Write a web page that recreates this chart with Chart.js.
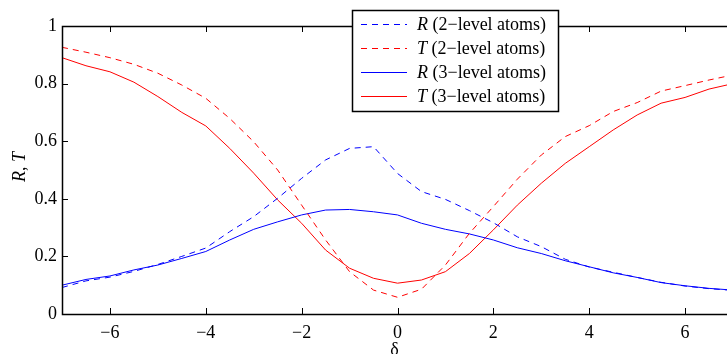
<!DOCTYPE html>
<html>
<head>
<meta charset="utf-8">
<script src="https://cdn.jsdelivr.net/npm/chart.js@4"></script>
<style>
  html, body { margin: 0; padding: 0; background: #fff; overflow: hidden; }
  #wrap { width: 740px; height: 354px; }
</style>
</head>
<body>
<div id="wrap"><canvas id="myChart" width="740" height="354"></canvas></div>
<script>
// detuning delta
var deltaValues = [-7, -6.5, -6, -5.5, -5, -4.5, -4, -3.5, -3, -2.5, -2, -1.5, -1, -0.5, 0,
  0.5, 1, 1.5, 2, 2.5, 3, 3.5, 4, 4.5, 5, 5.5, 6, 6.5, 7];

var r2Values = [0.092, 0.115, 0.128, 0.148, 0.172, 0.2, 0.229, 0.286, 0.338, 0.402, 0.471,
  0.535, 0.575, 0.581, 0.488, 0.425, 0.398, 0.359, 0.317, 0.268, 0.234, 0.19, 0.163,
  0.145, 0.127, 0.11, 0.097, 0.088, 0.082];
var t2Values = [0.926, 0.909, 0.89, 0.867, 0.836, 0.795, 0.749, 0.679, 0.598, 0.5, 0.378,
  0.257, 0.147, 0.083, 0.058, 0.086, 0.17, 0.28, 0.373, 0.468, 0.552, 0.616, 0.654,
  0.703, 0.734, 0.774, 0.793, 0.8125, 0.83];
var r3Values = [0.1, 0.12, 0.132, 0.153, 0.17, 0.193, 0.217, 0.257, 0.294, 0.32, 0.344,
  0.361, 0.363, 0.355, 0.344, 0.315, 0.294, 0.278, 0.257, 0.23, 0.21, 0.185, 0.164,
  0.143, 0.127, 0.109, 0.098, 0.089, 0.083];
var t3Values = [0.89, 0.862, 0.841, 0.805, 0.755, 0.7, 0.653, 0.575, 0.489, 0.396, 0.315,
  0.222, 0.159, 0.124, 0.107, 0.118, 0.147, 0.21, 0.292, 0.378, 0.454, 0.523, 0.581,
  0.639, 0.691, 0.732, 0.752, 0.781, 0.8];

var xTicks = [-6, -4, -2, 0, 2, 4, 6];
var yTicks = [0, 0.2, 0.4, 0.6, 0.8, 1];

var legendItems = [
  { sym: 'R', rest: ' (2\u2212level atoms)', color: '#0000ff', dash: [6, 5] },
  { sym: 'T', rest: ' (2\u2212level atoms)', color: '#ff0000', dash: [6, 5] },
  { sym: 'R', rest: ' (3\u2212level atoms)', color: '#0000ff', dash: [] },
  { sym: 'T', rest: ' (3\u2212level atoms)', color: '#ff0000', dash: [] }
];

var FONT = '"Liberation Serif", "Times New Roman", serif';

function pts(ys) {
  return deltaValues.map(function (x, i) { return { x: x, y: ys[i] }; });
}

function minus(v) {
  return v < 0 ? '\u2212' + Math.abs(v) : String(v);
}

// box, inward ticks, legend and axis titles
var decor = {
  id: 'decor',
  afterDraw: function (chart) {
    var ctx = chart.ctx;
    var a = chart.chartArea;
    var xs = chart.scales.x, ys = chart.scales.y;
    ctx.save();
    ctx.strokeStyle = '#000';
    ctx.lineWidth = 1;
    ctx.beginPath();
    xTicks.forEach(function (v) {
      var px = Math.round(xs.getPixelForValue(v)) + 0.5;
      ctx.moveTo(px, a.bottom); ctx.lineTo(px, a.bottom - 6);
      ctx.moveTo(px, a.top); ctx.lineTo(px, a.top + 6);
    });
    yTicks.forEach(function (v) {
      var py = Math.round(ys.getPixelForValue(v)) + 0.5;
      ctx.moveTo(a.left, py); ctx.lineTo(a.left + 6, py);
      ctx.moveTo(a.right, py); ctx.lineTo(a.right - 6, py);
    });
    ctx.stroke();
    ctx.lineWidth = 1.5;
    ctx.strokeRect(Math.round(a.left) + 0.5, Math.round(a.top) + 0.5,
      Math.round(a.right - a.left), Math.round(a.bottom - a.top));

    // legend
    var lx = 352, ly = 10, lw = 206, lh = 101;
    ctx.fillStyle = '#fff';
    ctx.fillRect(lx, ly, lw, lh);
    ctx.lineWidth = 1.5;
    ctx.strokeStyle = '#000';
    ctx.strokeRect(lx + 0.5, ly + 0.5, lw, lh);
    ctx.textBaseline = 'middle';
    legendItems.forEach(function (it, i) {
      var y = 24 + i * 24;
      ctx.strokeStyle = it.color;
      ctx.lineWidth = 1;
      ctx.setLineDash(it.dash);
      ctx.beginPath();
      ctx.moveTo(361, y + 0.5); ctx.lineTo(407, y + 0.5);
      ctx.stroke();
      ctx.setLineDash([]);
      ctx.fillStyle = '#000';
      ctx.font = 'italic 18px ' + FONT;
      ctx.fillText(it.sym, 417, y + 1);
      var w = ctx.measureText(it.sym).width;
      ctx.font = '18px ' + FONT;
      ctx.fillText(it.rest, 417 + w, y + 1);
    });

    // axis titles
    ctx.fillStyle = '#000';
    ctx.textBaseline = 'alphabetic';
    ctx.textAlign = 'center';
    ctx.font = '18px ' + FONT;
    ctx.fillText('\u03b4', (a.left + a.right) / 2 - 3, 355);

    ctx.translate(25, (a.top + a.bottom) / 2 - 3);
    ctx.rotate(-Math.PI / 2);
    ctx.textAlign = 'left';
    var parts = [['R', 'italic '], [', ', ''], ['T', 'italic ']];
    var total = 0;
    parts.forEach(function (p) { ctx.font = p[1] + '18px ' + FONT; total += ctx.measureText(p[0]).width; });
    var cx = -total / 2;
    parts.forEach(function (p) {
      ctx.font = p[1] + '18px ' + FONT;
      ctx.fillText(p[0], cx, 0);
      cx += ctx.measureText(p[0]).width;
    });
    ctx.restore();
  }
};

function line(label, ys, color, dash) {
  return {
    label: label,
    data: pts(ys),
    borderColor: color,
    backgroundColor: color,
    borderWidth: 1,
    borderDash: dash,
    pointRadius: 0,
    tension: 0,
    fill: false
  };
}

new Chart('myChart', {
  type: 'line',
  data: {
    datasets: [
      line('R (2-level atoms)', r2Values, '#0000ff', [6, 5]),
      line('T (2-level atoms)', t2Values, '#ff0000', [6, 5]),
      line('R (3-level atoms)', r3Values, '#0000ff', []),
      line('T (3-level atoms)', t3Values, '#ff0000', [])
    ]
  },
  options: {
    responsive: false,
    animation: false,
    layout: { padding: { top: 26, right: 7, left: 0, bottom: 0 } },
    plugins: { legend: { display: false }, tooltip: { enabled: false } },
    scales: {
      x: {
        type: 'linear',
        min: -7,
        max: 7,
        afterFit: function (s) { s.height = 40; },
        afterBuildTicks: function (s) { s.ticks = xTicks.map(function (v) { return { value: v }; }); },
        grid: { display: false, drawTicks: false },
        border: { display: false },
        ticks: {
          padding: 8,
          color: '#000',
          font: { family: FONT, size: 18 },
          maxRotation: 0,
          callback: function (v) { return minus(v); }
        }
      },
      y: {
        min: 0,
        max: 1,
        afterFit: function (s) { s.width = 62; },
        afterBuildTicks: function (s) { s.ticks = yTicks.map(function (v) { return { value: v }; }); },
        grid: { display: false, drawTicks: false },
        border: { display: false },
        ticks: {
          padding: 5,
          color: '#000',
          font: { family: FONT, size: 18 },
          callback: function (v) { return String(v); }
        }
      }
    }
  },
  plugins: [decor]
});
</script>
</body>
</html>
